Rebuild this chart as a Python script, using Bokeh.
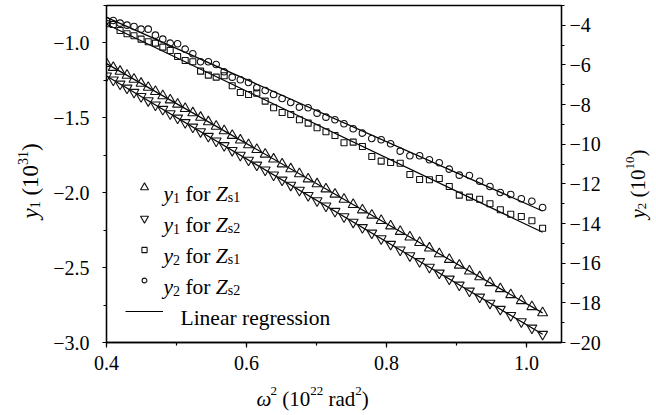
import numpy as np
from math import pi
from bokeh.plotting import figure
from bokeh.models import (Range1d, LinearAxis, SingleIntervalTicker, CustomJSTickFormatter,
                          Label, Legend, LegendItem)
from bokeh.core.properties import value
from bokeh.embed import file_html
from bokeh.resources import INLINE

# ---------------- data ----------------
omega_sq = [0.4000, 0.4097, 0.4194, 0.4293, 0.4393, 0.4494, 0.4596, 0.4699, 0.4804, 0.4910,
            0.5016, 0.5124, 0.5233, 0.5344, 0.5455, 0.5567, 0.5681, 0.5796, 0.5912, 0.6029,
            0.6147, 0.6267, 0.6387, 0.6509, 0.6632, 0.6756, 0.6881, 0.7008, 0.7135, 0.7264,
            0.7393, 0.7524, 0.7656, 0.7790, 0.7924, 0.8059, 0.8196, 0.8334, 0.8473, 0.8613,
            0.8754, 0.8897, 0.9040, 0.9185, 0.9331, 0.9478, 0.9626, 0.9775, 0.9926, 1.0077,
            1.0230]

y1_zs1 = [-1.138, -1.164, -1.190, -1.216, -1.243, -1.270, -1.297, -1.325, -1.353, -1.381,
          -1.409, -1.438, -1.467, -1.497, -1.527, -1.557, -1.587, -1.618, -1.649, -1.680,
          -1.712, -1.743, -1.776, -1.808, -1.841, -1.874, -1.908, -1.941, -1.975, -2.010,
          -2.044, -2.079, -2.115, -2.150, -2.186, -2.222, -2.259, -2.296, -2.333, -2.370,
          -2.408, -2.446, -2.484, -2.523, -2.562, -2.601, -2.641, -2.681, -2.721, -2.761,
          -2.802]

y1_zs2 = [-1.220, -1.247, -1.274, -1.301, -1.329, -1.357, -1.385, -1.414, -1.443, -1.472,
          -1.501, -1.531, -1.561, -1.592, -1.623, -1.654, -1.685, -1.717, -1.749, -1.782,
          -1.815, -1.848, -1.881, -1.915, -1.949, -1.983, -2.018, -2.053, -2.088, -2.124,
          -2.160, -2.196, -2.232, -2.269, -2.307, -2.344, -2.382, -2.420, -2.459, -2.497,
          -2.536, -2.576, -2.616, -2.656, -2.696, -2.737, -2.778, -2.819, -2.861, -2.903,
          -2.945]

y2_zs1 = [-3.920, -3.956, -4.258, -4.425, -4.526, -4.697, -4.828, -4.899, -5.101, -5.267,
          -5.570, -5.772, -5.838, -6.312, -6.514, -6.615, -6.544, -7.049, -7.386, -7.487,
          -7.422, -7.825, -8.158, -8.396, -8.496, -8.764, -8.935, -9.167, -9.369, -9.556,
          -9.925, -9.894, -10.111, -10.616, -10.853, -10.918, -10.954, -11.524, -11.776, -11.791,
          -11.726, -12.129, -12.568, -12.669, -12.770, -13.002, -13.305, -13.527, -13.643, -13.860,
          -14.233]

y2_zs2 = [-3.754, -3.754, -3.890, -3.991, -4.057, -4.193, -4.193, -4.495, -4.697, -4.899,
          -4.929, -5.202, -5.434, -5.838, -5.838, -5.974, -6.342, -6.615, -6.746, -6.882,
          -7.150, -7.286, -7.487, -7.689, -7.891, -8.128, -8.158, -8.431, -8.633, -8.764,
          -8.966, -9.218, -9.440, -9.707, -9.773, -9.975, -10.348, -10.580, -10.580, -10.782,
          -10.934, -11.256, -11.559, -11.574, -11.862, -12.129, -12.431, -12.532, -12.750, -12.871,
          -13.189]

# ---------------- layout ----------------
W, H = 656, 415
FL, FT, FW, FH = 106, 5, 455, 337
X0, X1 = 0.4, 1.05
Y0, Y1 = -3.0, -0.75
Y2_0, Y2_1 = -20.0, -3.0
FONT = "Liberation Serif"
INK = "#111111"


def px2x(px):
    return X0 + (px - FL) * (X1 - X0) / FW


def py2y(py):
    return Y1 - (py - FT) * (Y1 - Y0) / FH


p = figure(width=W, height=H, x_range=Range1d(X0, X1), y_range=Range1d(Y0, Y1),
           output_backend="svg", toolbar_location=None,
           min_border_left=FL, min_border_right=W - FL - FW,
           min_border_top=FT, min_border_bottom=H - FT - FH)
p.extra_y_ranges = {"y2": Range1d(Y2_0, Y2_1)}
p.grid.visible = False
p.outline_line_color = "black"
p.outline_line_width = 1.3
p.background_fill_color = "white"
p.border_fill_color = "white"


def style_axis(ax, out_len, standoff):
    ax.axis_line_color = "black"
    ax.axis_line_width = 1.3
    ax.major_tick_line_color = "black"
    ax.minor_tick_line_color = "black"
    ax.major_tick_line_width = 1.2
    ax.minor_tick_line_width = 1.2
    ax.major_tick_in = 0
    ax.minor_tick_in = 0
    ax.major_tick_out = out_len
    ax.minor_tick_out = 3
    ax.major_label_text_font = FONT
    ax.major_label_text_font_size = "20px"
    ax.major_label_text_color = "black"
    ax.major_label_standoff = standoff


fmt1 = CustomJSTickFormatter(code="return (tick < -1e-9 ? '\u2212' : '') + Math.abs(tick).toFixed(1);")
fmt0 = CustomJSTickFormatter(code="return (tick < -1e-9 ? '\u2212' : '') + Math.abs(tick).toFixed(0);")

xa = p.xaxis[0]
xa.ticker = SingleIntervalTicker(interval=0.2, num_minor_ticks=2)
xa.formatter = fmt1
style_axis(xa, 5, 8)

ya = p.yaxis[0]
ya.ticker = SingleIntervalTicker(interval=0.5, num_minor_ticks=2)
ya.formatter = fmt1
style_axis(ya, 4, 13)

ya2 = LinearAxis(y_range_name="y2")
ya2.ticker = SingleIntervalTicker(interval=2, num_minor_ticks=2)
ya2.formatter = fmt0
style_axis(ya2, 4, 4)
p.add_layout(ya2, "right")

# ---------------- data marks ----------------
x = np.array(omega_sq)
series = [
    (y1_zs1, "triangle", 10, "default"),
    (y1_zs2, "inverted_triangle", 10, "default"),
    (y2_zs1, "square", 6, "y2"),
    (y2_zs2, "circle", 6.5, "y2"),
]
marker_r = []
line_r = []
for ys, mk, sz, rng in series:
    ys = np.array(ys)
    k, b = np.polyfit(x, ys, 1)
    xl = np.array([x.min(), x.max()])
    lr = p.line(xl, k * xl + b, line_color="black", line_width=1.2, y_range_name=rng)
    mr = p.scatter(x, ys, marker=mk, size=sz, fill_color=None, line_color=INK,
                   line_width=1.1, y_range_name=rng)
    marker_r.append(mr)
    line_r.append(lr)

# ---------------- legend (glyphs) ----------------
rows_cy = [187, 218, 249, 280, 311]
glyph_h = [20, 20, 13, 12, 20]
leg_renderers = marker_r + [line_r[0]]
for cy, gh, r in zip(rows_cy, glyph_h, leg_renderers):
    leg = Legend(items=[LegendItem(label=value(" "), renderers=[r])],
                 location=(19, FT + FH - (cy + gh / 2)),
                 glyph_width=38, glyph_height=gh, label_height=gh, label_width=1,
                 label_text_font_size="1px", label_standoff=0, padding=0, margin=0,
                 spacing=0, border_line_alpha=0, background_fill_alpha=0)
    p.add_layout(leg)

# ---------------- rich text ----------------
W_RM = {" ": 250, "(": 333, ")": 333, ".": 250, "a": 444, "d": 500, "e": 444, "f": 333,
        "g": 500, "i": 278, "L": 611, "n": 500, "o": 500, "r": 333, "s": 389}
W_IT = {"y": 444, "Z": 556, "\u03c9": 667}
MAIN, SMALL = 21, 13


def text_w(s, size, italic):
    tab = W_IT if italic else W_RM
    return sum(tab.get(c, 500) for c in s) * size / 1000.0


def add_rich(pieces, start, base, rotated=False, main=MAIN, small=SMALL, outside=False):
    pos = start
    for text, kind in pieces:
        size = main if kind in ("rm", "it", "sp") else small
        shift = {"rm": 0, "it": 0, "sp": 0, "sub": 4, "sup": -8}[kind]
        w = text_w(text, size, kind == "it")
        if kind != "sp":
            if rotated:
                sx, sy = base + shift, pos
            else:
                sx, sy = pos, base + shift
            style = "italic" if kind == "it" else "normal"
            ang = pi / 2 if rotated else 0
            if outside:
                # text glyph on the overlay level (not clipped to the frame)
                p.text(x=[px2x(sx)], y=[py2y(sy)], text=[text], angle=ang,
                       text_font=value(FONT), text_font_size=value(f"{size}px"),
                       text_font_style=value(style), text_baseline="alphabetic",
                       text_align="left", text_color="black", level="overlay")
            else:
                p.add_layout(Label(x=px2x(sx), y=py2y(sy), text=text, text_font=FONT,
                                   text_font_size=f"{size}px", text_font_style=style,
                                   text_baseline="alphabetic", text_align="left",
                                   text_color="black", angle=ang))
        pos = pos - w if rotated else pos + w


# x axis title: ω² (10²² rad²)
add_rich([("\u03c9", "it"), ("2", "sup"), (" ", "sp"), ("(10", "rm"), ("22", "sup"),
          (" ", "sp"), ("rad", "rm"), ("2", "sup"), (")", "rm")], 256, 398, outside=True)
# left axis title: y1 (10^31)
add_rich([("y", "it"), ("1", "sub"), (" ", "sp"), ("(10", "rm"), ("31", "sup"), (")", "rm")],
         218, 30, rotated=True, outside=True, main=23, small=14)
# right axis title: y2 (10^10)
add_rich([("y", "it"), ("2", "sub"), (" ", "sp"), ("(10", "rm"), ("10", "sup"), (")", "rm")],
         218, 637, rotated=True, outside=True)

# legend texts
legend_subs = [("1", "s1"), ("1", "s2"), ("2", "s1"), ("2", "s2")]
for cy, (a, bsub) in zip(rows_cy[:4], legend_subs):
    add_rich([("y", "it"), (a, "sub"), (" ", "sp"), ("for", "rm"), (" ", "sp"),
              ("Z", "it"), (bsub, "sub")], 163, cy + 6, main=21.5, small=14)
p.add_layout(Label(x=px2x(180), y=py2y(rows_cy[4] + 6), text="Linear regression",
                   text_font=FONT, text_font_size="21.5px", text_baseline="alphabetic",
                   text_align="left", text_color="black"))

open("out.html", "w", encoding="utf-8").write(file_html(p, INLINE))
